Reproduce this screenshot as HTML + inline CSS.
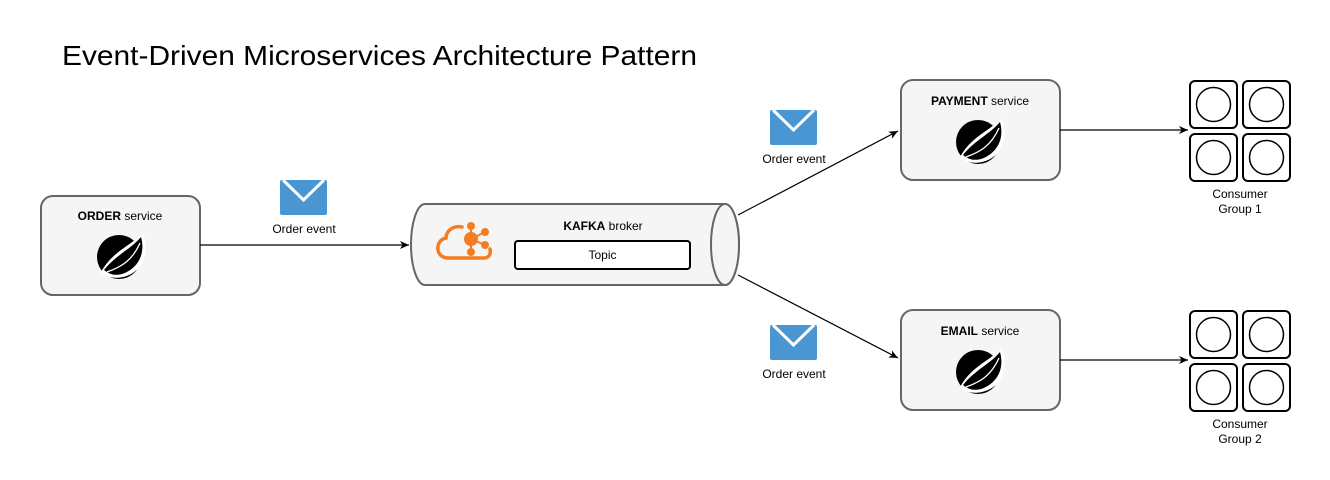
<!DOCTYPE html>
<html><head><meta charset="utf-8"><style>
html,body{margin:0;padding:0;background:#fff;width:1330px;height:480px;overflow:hidden}
svg{display:block;font-family:"Liberation Sans",Arial,sans-serif}
</style></head><body>
<svg width="1330" height="480" viewBox="0 0 1330 480" xmlns="http://www.w3.org/2000/svg">
<defs>
<marker id="ar" markerWidth="10" markerHeight="8" refX="9" refY="4" orient="auto" markerUnits="userSpaceOnUse">
<path d="M0,0 L9,4 L0,8 L2.5,4 Z" fill="#000"/></marker>
<g id="spring">
<circle cx="-2" cy="2" r="22" fill="#000"/>
<path d="M-20,17 C-8,-4 8,-8 22,-22 C30,0 20,18 2,22 C-8,24 -15,22 -20,17 Z" fill="#fff"/>
<path d="M-17,15 C-5,0 10,-6 20,-18 C25,0 16,14 1,19 C-7,21 -12,19 -17,15 Z" fill="#000"/>
<path d="M-14,17 C0,12 11,6 19,-12" stroke="#fff" stroke-width="1.3" fill="none"/>
<circle cx="-16" cy="18" r="1.6" fill="#fff"/>
</g>
<g id="env">
<rect x="0" y="0" width="47" height="35" rx="2" fill="#4a96d2"/>
<path d="M3,0 L23.5,20 L44,0" stroke="#fff" stroke-width="3" fill="none"/>
</g>
<g id="cg">
<rect x="0" y="0" width="47" height="47" rx="5" fill="#fff" stroke="#000" stroke-width="2"/>
<rect x="53" y="0" width="47" height="47" rx="5" fill="#fff" stroke="#000" stroke-width="2"/>
<rect x="0" y="53" width="47" height="47" rx="5" fill="#fff" stroke="#000" stroke-width="2"/>
<rect x="53" y="53" width="47" height="47" rx="5" fill="#fff" stroke="#000" stroke-width="2"/>
<circle cx="23.5" cy="23.5" r="17" fill="none" stroke="#000" stroke-width="1.5"/>
<circle cx="76.5" cy="23.5" r="17" fill="none" stroke="#000" stroke-width="1.5"/>
<circle cx="23.5" cy="76.5" r="17" fill="none" stroke="#000" stroke-width="1.5"/>
<circle cx="76.5" cy="76.5" r="17" fill="none" stroke="#000" stroke-width="1.5"/>
</g>
</defs>

<text x="62" y="65" font-size="28" fill="#000" textLength="635" lengthAdjust="spacingAndGlyphs">Event-Driven Microservices Architecture Pattern</text>

<!-- ORDER -->
<rect x="41" y="196" width="159" height="99" rx="12" fill="#f5f5f5" stroke="#666" stroke-width="2"/>
<text x="120" y="220" font-size="12" text-anchor="middle"><tspan font-weight="bold">ORDER</tspan> service</text>
<use href="#spring" x="121" y="255"/>

<line x1="200" y1="245" x2="409" y2="245" stroke="#000" stroke-width="1.2" marker-end="url(#ar)"/>
<use href="#env" x="280" y="180"/>
<text x="304" y="233" font-size="12" text-anchor="middle">Order event</text>

<!-- Kafka cylinder -->
<path d="M425,204 L725,204 A14,40.5 0 0 1 725,285 L425,285 A14,40.5 0 0 1 425,204 Z" fill="#f5f5f5" stroke="#666" stroke-width="2"/>
<ellipse cx="725" cy="244.5" rx="14" ry="40.5" fill="#f5f5f5" stroke="#666" stroke-width="2"/>
<text x="603" y="230" font-size="12" text-anchor="middle"><tspan font-weight="bold">KAFKA</tspan> broker</text>
<rect x="515" y="241" width="175" height="28" rx="3" fill="#fff" stroke="#000" stroke-width="2"/>
<text x="602.5" y="259" font-size="12" text-anchor="middle">Topic</text>
<!-- kafka icon -->
<g stroke="#f57c20" fill="none" stroke-width="3.5" stroke-linecap="round">
<path d="M462,227 C452,225 446,232 446,238 C440,239 437,245 438,250 C439,256 444,258 448,258 L484,258 C489,258 491,254 490,249"/>
</g>
<g fill="#f57c20" stroke="#f57c20" stroke-width="2">
<line x1="471" y1="239" x2="471" y2="226"/><line x1="471" y1="239" x2="485" y2="232"/>
<line x1="471" y1="239" x2="485" y2="245"/><line x1="471" y1="239" x2="471" y2="252"/>
<circle cx="471" cy="239" r="6"/><circle cx="471" cy="226" r="3"/><circle cx="485" cy="232" r="3"/>
<circle cx="485" cy="245" r="3"/><circle cx="471" cy="252" r="3"/>
</g>

<!-- branches -->
<line x1="738" y1="215" x2="898" y2="131" stroke="#000" stroke-width="1.2" marker-end="url(#ar)"/>
<line x1="738" y1="275" x2="898" y2="358" stroke="#000" stroke-width="1.2" marker-end="url(#ar)"/>
<use href="#env" x="770" y="110"/>
<text x="794" y="163" font-size="12" text-anchor="middle">Order event</text>
<use href="#env" x="770" y="325"/>
<text x="794" y="378" font-size="12" text-anchor="middle">Order event</text>

<!-- PAYMENT -->
<rect x="901" y="80" width="159" height="100" rx="12" fill="#f5f5f5" stroke="#666" stroke-width="2"/>
<text x="980" y="105" font-size="12" text-anchor="middle"><tspan font-weight="bold">PAYMENT</tspan> service</text>
<use href="#spring" x="980" y="140"/>
<line x1="1060" y1="130" x2="1188" y2="130" stroke="#000" stroke-width="1.2" marker-end="url(#ar)"/>
<use href="#cg" x="1190" y="81"/>
<text x="1240" y="198" font-size="12" text-anchor="middle">Consumer</text>
<text x="1240" y="213" font-size="12" text-anchor="middle">Group 1</text>

<!-- EMAIL -->
<rect x="901" y="310" width="159" height="100" rx="12" fill="#f5f5f5" stroke="#666" stroke-width="2"/>
<text x="980" y="335" font-size="12" text-anchor="middle"><tspan font-weight="bold">EMAIL</tspan> service</text>
<use href="#spring" x="980" y="370"/>
<line x1="1060" y1="360" x2="1188" y2="360" stroke="#000" stroke-width="1.2" marker-end="url(#ar)"/>
<use href="#cg" x="1190" y="311"/>
<text x="1240" y="428" font-size="12" text-anchor="middle">Consumer</text>
<text x="1240" y="443" font-size="12" text-anchor="middle">Group 2</text>
</svg>
</body></html>
